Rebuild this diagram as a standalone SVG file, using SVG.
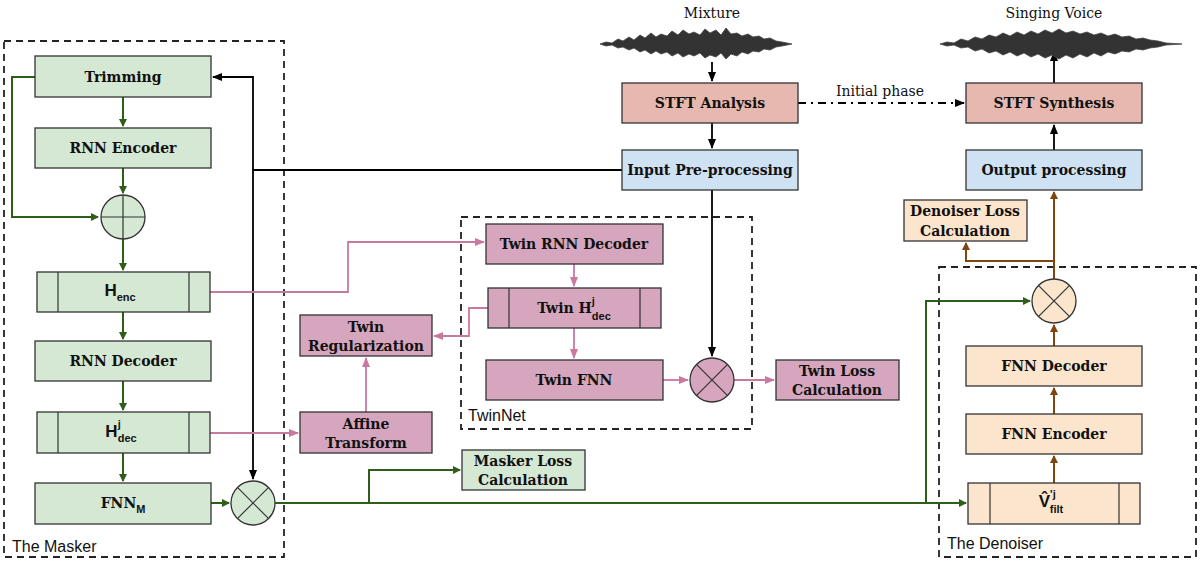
<svg xmlns="http://www.w3.org/2000/svg" width="1200" height="564" viewBox="0 0 1200 564">
<style>
text{font-family:"DejaVu Serif","Liberation Serif",serif;font-size:14px;font-weight:bold;fill:#111;text-anchor:middle;dominant-baseline:central}
.lbl{font-family:"Liberation Sans",Arial,sans-serif;font-size:16px;font-weight:normal;text-anchor:start}
.hh{font-family:"Liberation Sans",Arial,sans-serif;font-size:17px}
.sub{font-family:"Liberation Sans",Arial,sans-serif;font-size:11px}
.g rect,.g circle{fill:#d5e8d4}
.p rect,.p circle{fill:#d5a6bd}
.r rect{fill:#e6b8af}
.b rect{fill:#cfe2f3}
.o rect,.o circle{fill:#fce5cd}
rect,circle{stroke:#333;stroke-width:1.3}
.x{stroke:#333;stroke-width:1.2;fill:none}
.dash{fill:none;stroke:#222;stroke-width:1.8;stroke-dasharray:7 5}
.lg{fill:none;stroke:#2e5e17;stroke-width:2}
.lp{fill:none;stroke:#c9799f;stroke-width:1.8}
.lk{fill:none;stroke:#000;stroke-width:1.8}
.lo{fill:none;stroke:#7f4510;stroke-width:2}
.wave{fill:#333;stroke:#444;stroke-width:0.8}
</style>
<defs>
<marker id="ag" markerWidth="8" markerHeight="8" refX="7" refY="4" orient="auto" markerUnits="userSpaceOnUse"><path d="M0,0L8,4L0,8z" fill="#2e5e17"/></marker>
<marker id="ap" markerWidth="10" markerHeight="8" refX="9" refY="4" orient="auto" markerUnits="userSpaceOnUse"><path d="M0,0L10,4L0,8z" fill="#c9799f"/></marker>
<marker id="ak" markerWidth="10" markerHeight="8" refX="9" refY="4" orient="auto" markerUnits="userSpaceOnUse"><path d="M0,0L10,4L0,8z" fill="#000"/></marker>
<marker id="ao" markerWidth="8" markerHeight="8" refX="7" refY="4" orient="auto" markerUnits="userSpaceOnUse"><path d="M0,0L8,4L0,8z" fill="#7f4510"/></marker>
</defs>

<rect class="dash" x="4" y="41" width="280" height="516"/>
<rect class="dash" x="461" y="217" width="291" height="212"/>
<rect class="dash" x="939" y="267" width="257" height="290"/>
<text class="lbl" x="12" y="546">The Masker</text>
<text class="lbl" x="468" y="415">TwinNet</text>
<text class="lbl" x="947" y="543">The Denoiser</text>

<g id="connectors">
<path class="lg" d="M123,97V126" marker-end="url(#ag)"/>
<path class="lg" d="M123,168V193" marker-end="url(#ag)"/>
<path class="lg" d="M35,77H12V217H98" marker-end="url(#ag)"/>
<path class="lg" d="M123,239V270" marker-end="url(#ag)"/>
<path class="lg" d="M123,312V339" marker-end="url(#ag)"/>
<path class="lg" d="M123,381V410" marker-end="url(#ag)"/>
<path class="lg" d="M123,453V481" marker-end="url(#ag)"/>
<path class="lg" d="M211,503H229" marker-end="url(#ag)"/>
<path class="lg" d="M275,503H966" marker-end="url(#ag)"/>
<path class="lg" d="M369,503V470H460" marker-end="url(#ag)"/>
<path class="lg" d="M926,503V301H1030" marker-end="url(#ag)"/>
<path class="lk" d="M622,170H253V479" marker-end="url(#ak)"/>
<path class="lk" d="M253,170V77H213" marker-end="url(#ak)"/>
<path class="lk" d="M712,62V81" marker-end="url(#ak)"/>
<path class="lk" d="M712,123V148" marker-end="url(#ak)"/>
<path class="lk" d="M712,190V356" marker-end="url(#ak)"/>
<path class="lk" d="M1054,150V125" marker-end="url(#ak)"/>
<path class="lk" d="M1054,83V52" marker-end="url(#ak)"/>
<path class="lk" d="M798,103H964" stroke-dasharray="8 5 2 5" stroke-width="1.3" marker-end="url(#ak)"/>
<path class="lp" d="M210,292H348V242H484" marker-end="url(#ap)"/>
<path class="lp" d="M574,264V286" marker-end="url(#ap)"/>
<path class="lp" d="M574,328V358" marker-end="url(#ap)"/>
<path class="lp" d="M488,308H469V336H434" marker-end="url(#ap)"/>
<path class="lp" d="M210,433H298" marker-end="url(#ap)"/>
<path class="lp" d="M366,412V358" marker-end="url(#ap)"/>
<path class="lp" d="M663,380H688" marker-end="url(#ap)"/>
<path class="lp" d="M734,380H774" marker-end="url(#ap)"/>
<path class="lo" d="M1054,483V456" marker-end="url(#ao)"/>
<path class="lo" d="M1054,414V388" marker-end="url(#ao)"/>
<path class="lo" d="M1054,346V325" marker-end="url(#ao)"/>
<path class="lo" d="M1054,279V192" marker-end="url(#ao)"/>
<path class="lo" d="M1054,261H966V243" marker-end="url(#ao)"/>
</g>
<text x="880" y="91" style="font-weight:normal">Initial phase</text>

<g id="mixture"><text x="712" y="13" style="font-weight:normal">Mixture</text>
<path class="wave" d="M600,44L606,42L612,43L618,39L623,41L629,37L634,40L640,35L645,38L651,33L656,37L661,34L667,36L672,31L678,35L683,30L689,34L694,32L700,35L705,29L710,33L716,30L721,35L726,28L731,34L737,33L742,36L748,34L753,37L759,36L764,39L770,38L776,41L782,42L792,44L782,46L776,47L770,50L764,49L759,52L753,51L748,54L742,52L737,56L731,54L726,59L721,53L716,57L710,55L705,58L700,53L694,56L689,54L683,57L678,53L672,56L667,52L661,54L656,51L651,54L645,50L640,52L634,48L629,50L623,47L618,48L612,45L606,46Z"/></g>
<g id="singing"><text x="1054" y="13" style="font-weight:normal">Singing Voice</text>
<path class="wave" d="M940,44L947,42L954,43L961,39L968,41L975,37L982,39L989,35L996,37L1003,33L1010,36L1017,32L1024,35L1031,31L1038,34L1045,30L1052,33L1059,29L1066,33L1073,31L1080,34L1087,32L1094,35L1101,33L1108,36L1115,34L1122,37L1129,36L1136,39L1143,38L1150,40L1158,41L1166,43L1182,44L1166,45L1158,47L1150,48L1143,50L1136,49L1129,52L1122,51L1115,54L1108,52L1101,56L1094,53L1087,57L1080,54L1073,58L1066,55L1059,59L1052,55L1045,58L1038,54L1031,57L1024,53L1017,56L1010,52L1003,55L996,51L989,53L982,49L975,51L968,47L961,48L954,45L947,46Z"/></g>

<g id="trimming" class="g"><rect x="35" y="56" width="176" height="41"/><text x="123" y="77">Trimming</text></g>
<g id="rnnenc" class="g"><rect x="35" y="128" width="176" height="40"/><text x="123" y="148">RNN Encoder</text></g>
<g id="plus" class="g"><circle cx="123" cy="217" r="22"/><path class="x" d="M101,217H145M123,195V239"/></g>
<g id="henc" class="g"><rect x="37" y="272" width="173" height="40"/><path class="x" d="M58,272V312M189,272V312"/><text x="120" y="290" class="hh">H<tspan class="sub" dy="7">enc</tspan></text></g>
<g id="rnndec" class="g"><rect x="35" y="341" width="176" height="40"/><text x="123" y="361">RNN Decoder</text></g>
<g id="hdec" class="g"><rect x="37" y="412" width="173" height="41"/><path class="x" d="M58,412V453M189,412V453"/><text x="121" y="431" class="hh">H<tspan class="sub" dy="-7">j</tspan><tspan class="sub" dx="-3" dy="14">dec</tspan></text></g>
<g id="fnnm" class="g"><rect x="35" y="483" width="176" height="41"/><text x="123" y="503">FNN<tspan class="sub" dy="6">M</tspan></text></g>
<g id="times1" class="g"><circle cx="253" cy="503" r="22"/><path class="x" d="M237.4,487.4L268.6,518.6M268.6,487.4L237.4,518.6"/></g>
<g id="maskerloss" class="g"><rect x="462" y="450" width="123" height="40"/><text x="523" y="461">Masker Loss</text><text x="523" y="480">Calculation</text></g>

<g id="stfta" class="r"><rect x="622" y="83" width="176" height="40"/><text x="710" y="103">STFT Analysis</text></g>
<g id="inpre" class="b"><rect x="622" y="150" width="176" height="40"/><text x="710" y="170">Input Pre-processing</text></g>
<g id="stfts" class="r"><rect x="966" y="83" width="176" height="40"/><text x="1054" y="103">STFT Synthesis</text></g>
<g id="outproc" class="b"><rect x="966" y="150" width="176" height="40"/><text x="1054" y="170">Output processing</text></g>

<g id="twinrnn" class="p"><rect x="486" y="224" width="177" height="40"/><text x="574" y="244">Twin RNN Decoder</text></g>
<g id="twinh" class="p"><rect x="488" y="288" width="173" height="40"/><path class="x" d="M509,288V328M640,288V328"/><text x="574" y="308">Twin H<tspan class="sub" dy="-7">j</tspan><tspan class="sub" dx="-3" dy="15">dec</tspan></text></g>
<g id="twinfnn" class="p"><rect x="486" y="360" width="177" height="40"/><text x="574" y="380">Twin  FNN</text></g>
<g id="times2" class="p"><circle cx="712" cy="380" r="22"/><path class="x" d="M696.4,364.4L727.6,395.6M727.6,364.4L696.4,395.6"/></g>
<g id="twinloss" class="p"><rect x="776" y="360" width="123" height="40"/><text x="837" y="371">Twin  Loss</text><text x="837" y="390">Calculation</text></g>
<g id="twinreg" class="p"><rect x="300" y="315" width="132" height="41"/><text x="366" y="327">Twin</text><text x="366" y="346">Regularization</text></g>
<g id="affine" class="p"><rect x="300" y="412" width="132" height="41"/><text x="366" y="424">Affine</text><text x="366" y="443">Transform</text></g>

<g id="denloss" class="o"><rect x="904" y="200" width="123" height="41"/><text x="965" y="211">Denoiser Loss</text><text x="965" y="231">Calculation</text></g>
<g id="times3" class="o"><circle cx="1054" cy="301" r="22"/><path class="x" d="M1038.4,285.4L1069.6,316.6M1069.6,285.4L1038.4,316.6"/></g>
<g id="fnndec" class="o"><rect x="966" y="346" width="176" height="40"/><text x="1054" y="366">FNN Decoder</text></g>
<g id="fnnenc" class="o"><rect x="966" y="414" width="176" height="40"/><text x="1054" y="434">FNN Encoder</text></g>
<g id="vfilt" class="o"><rect x="968" y="483" width="172" height="41"/><path class="x" d="M990,483V524M1119,483V524"/><text x="1051" y="501" class="hh">V̂<tspan class="sub" dy="-7">'j</tspan><tspan class="sub" dx="-6" dy="15">filt</tspan></text></g>
</svg>
